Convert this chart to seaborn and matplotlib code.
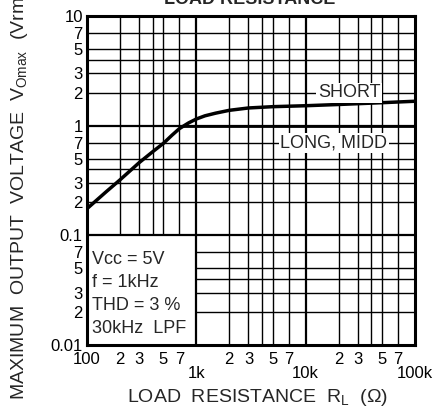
import matplotlib
matplotlib.use('Agg')

import matplotlib.pyplot as plt
import numpy as np
import pandas as pd
import seaborn as sns
from matplotlib.patches import Rectangle
from matplotlib.ticker import FixedFormatter, FixedLocator

# valores (R en ohm, V en Vrms)
r_short = [100, 150, 200, 300, 400, 500, 600, 700, 850, 1000, 1200, 1500,
           2000, 3000, 5000, 10000, 20000, 50000, 100000]
v_short = [0.175, 0.25, 0.32, 0.46, 0.58, 0.69, 0.82, 0.94, 1.06, 1.15, 1.23,
           1.3, 1.38, 1.45, 1.49, 1.52, 1.56, 1.62, 1.67]
r_long = [750, 1000, 10000, 100000]
v_long = [1.0, 1.0, 1.0, 1.0]

decades_x = [100, 1000, 10000]
decades_y = [0.01, 0.1, 1]
grid_steps = [2, 3, 4, 5, 7]
label_steps = ['2', '3', '', '5', '7']

cond_lines = ['Vcc = 5V', 'f = 1kHz', 'THD = 3 %', '30kHz  LPF']

sns.set_style('white')
plt.rcParams['font.family'] = ['Liberation Sans', 'DejaVu Sans']
plt.rcParams['mathtext.fontset'] = 'custom'
plt.rcParams['mathtext.rm'] = 'Liberation Sans'

df_short = pd.DataFrame({'R': r_short, 'V': v_short})
df_long = pd.DataFrame({'R': r_long, 'V': v_long})

fig = plt.figure(figsize=(4.4, 4.08), dpi=100)
ax = fig.add_axes([87 / 440, 1 - 345 / 408, 328 / 440, 329 / 408])
ax.set_xscale('log')
ax.set_yscale('log')
ax.set_xlim(100, 100000)
ax.set_ylim(0.01, 10)

# rejilla manual (para poder taparla con el cuadro de condiciones)
minor_x = [d * s for d in decades_x for s in grid_steps]
minor_y = [d * s for d in decades_y for s in grid_steps]
for xv in minor_x:
    ax.axvline(xv, color='black', lw=1.0, zorder=1)
for yv in minor_y:
    ax.axhline(yv, color='black', lw=1.0, zorder=1)
for xv in decades_x[1:]:
    ax.axvline(xv, color='black', lw=1.6, zorder=2)
for yv in decades_y[1:]:
    ax.axhline(yv, color='black', lw=1.6, zorder=2)

ax.add_patch(Rectangle((100, 0.01), 900, 0.09, facecolor='white',
                       edgecolor='none', zorder=1.5))

sns.lineplot(data=df_short, x='R', y='V', color='black', lw=2.5, ax=ax,
             zorder=3)
sns.lineplot(data=df_long, x='R', y='V', color='black', lw=2.0, ax=ax,
             zorder=3)

# ticks eje x
x_minor_ticks = [100] + [d * s for d in decades_x for s in grid_steps]
x_minor_labels = ['100'] + label_steps * len(decades_x)
ax.xaxis.set_major_locator(FixedLocator([1000, 10000, 100000]))
ax.xaxis.set_major_formatter(FixedFormatter(['1k', '10k', '100k']))
ax.xaxis.set_minor_locator(FixedLocator(x_minor_ticks))
ax.xaxis.set_minor_formatter(FixedFormatter(x_minor_labels))

# ticks eje y
y_major_ticks = [0.01, 0.1, 1, 10]
ax.yaxis.set_major_locator(FixedLocator(y_major_ticks))
ax.yaxis.set_major_formatter(FixedFormatter(['0.01', '0.1', '1', '10']))
ax.yaxis.set_minor_locator(FixedLocator(minor_y))
ax.yaxis.set_minor_formatter(FixedFormatter(label_steps * len(decades_y)))

ax.set_axisbelow(False)
ax.tick_params(axis='both', which='both', direction='in', length=3,
               width=1.0, color='black', labelsize=12, labelcolor='black')
ax.tick_params(axis='x', which='minor', pad=5)
ax.tick_params(axis='x', which='major', pad=15)
ax.tick_params(axis='y', which='both', pad=3)

for sp in ax.spines.values():
    sp.set_visible(True)
    sp.set_color('black')
    sp.set_linewidth(2.2)
    sp.set_zorder(4)

ax.set_xlabel('')
ax.set_ylabel('')

# etiquetas de las curvas
box = dict(facecolor='white', edgecolor='none', pad=1.0)
ax.text(25000, 2.0, 'SHORT', ha='center', va='center', fontsize=13,
        bbox=box, zorder=5)
ax.text(18000, 0.7, 'LONG, MIDD', ha='center', va='center', fontsize=13,
        bbox=box, zorder=5)

# condiciones
for i, line in enumerate(cond_lines):
    ax.text(0.016, 0.26 - i * 0.07, line, transform=ax.transAxes,
            ha='left', va='center', fontsize=13, zorder=5)

fig.text(250 / 440, 1 - 4 / 408, 'LOAD RESISTANCE', ha='center',
         va='baseline', fontsize=13, fontweight='bold')
fig.text(257 / 440, 1 - 402 / 408, r'LOAD  RESISTANCE  R$_{\rm L}$  (Ω)',
         ha='center', va='baseline', fontsize=14)
fig.text(20 / 440, 1 - 400 / 408,
         r'MAXIMUM  OUTPUT  VOLTAGE  V$_{\rm Omax}$  (Vrms)',
         ha='center', va='bottom', rotation=90, fontsize=14)

fig.savefig('out.png', dpi=100)
plt.close(fig)
